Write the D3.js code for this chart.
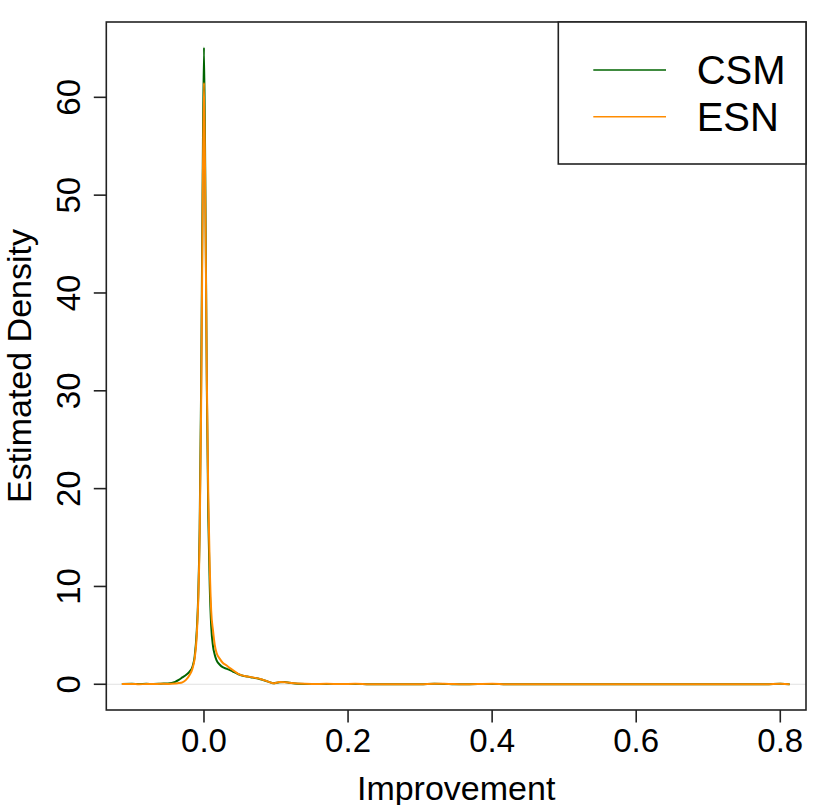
<!DOCTYPE html>
<html>
<head>
<meta charset="utf-8">
<script src="https://cdn.jsdelivr.net/npm/d3@7"></script>
<style>
  body { margin: 0; background: #fff; }
  svg { font-family: "Liberation Sans", Arial, Helvetica, sans-serif; }
</style>
</head>
<body>
<svg id="chart" width="830" height="805"></svg>
<script>
// density estimates
var xVals = [-0.114, -0.10, -0.09, -0.08, -0.07, -0.06, -0.05, -0.04, -0.035, -0.03,
  -0.025, -0.02, -0.016, -0.013, -0.010, -0.008, -0.006, -0.004, -0.002, 0.0,
  0.002, 0.004, 0.006, 0.008, 0.010, 0.0125, 0.015, 0.0175, 0.022, 0.026,
  0.031, 0.036, 0.040, 0.047, 0.054, 0.060, 0.068, 0.075, 0.082, 0.090,
  0.096, 0.105, 0.112, 0.119, 0.13, 0.15, 0.17, 0.19, 0.21, 0.23,
  0.30, 0.32, 0.34, 0.36, 0.40, 0.42, 0.5, 0.6, 0.7, 0.78, 0.80, 0.813];
var csm = [0.02, 0.05, 0.02, 0.05, 0.03, 0.06, 0.08, 0.25, 0.45, 0.7,
  0.95, 1.3, 1.8, 2.8, 5.5, 9, 16, 30, 50, 65.1,
  50, 30, 17, 10, 6, 3.9, 3.0, 2.45, 2.0, 1.75,
  1.6, 1.45, 1.3, 1.05, 0.88, 0.8, 0.68, 0.6, 0.44, 0.25,
  0.1, 0.2, 0.22, 0.15, 0.06, 0.02, 0.04, 0.02, 0.04, 0.0,
  0.0, 0.05, 0.02, 0.0, 0.04, 0.0, 0, 0, 0, 0, 0.05, 0.0];
var esn = [0.02, 0.04, 0.0, 0.03, 0.02, 0.05, 0.04, 0.08, 0.12, 0.2,
  0.45, 0.95, 1.6, 2.6, 5.0, 8.5, 15, 28, 47, 61.5,
  48, 31, 19, 12, 7.5, 5.5, 4.0, 3.2, 2.6, 2.2,
  1.95, 1.65, 1.45, 1.1, 0.88, 0.8, 0.7, 0.6, 0.45, 0.25,
  0.1, 0.22, 0.2, 0.15, 0.08, 0.03, 0.05, 0.02, 0.05, 0.01,
  0.0, 0.06, 0.03, 0.0, 0.05, 0.01, 0, 0, 0, 0, 0.06, 0.01];
var xTicks = [0.0, 0.2, 0.4, 0.6, 0.8];
var yTicks = [0, 10, 20, 30, 40, 50, 60];
var seriesNames = ["CSM", "ESN"];
var seriesColors = ["#006400", "#ff8c00"];

var svg = d3.select("#chart");
var pLeft = 106.3, pRight = 806, pTop = 22, pBottom = 710;

// R style: 4% padding around the data range
var x = d3.scaleLinear().domain([-0.1356, 0.8357]).range([pLeft, pRight]);
var y = d3.scaleLinear().domain([-2.63, 67.7]).range([pBottom, pTop]);

// zero line
svg.append("line")
    .attr("x1", pLeft).attr("x2", pRight)
    .attr("y1", y(0)).attr("y2", y(0))
    .attr("stroke", "#e2e2e2").attr("stroke-width", 1);

var line = d3.line().curve(d3.curveMonotoneX)
    .x(function (d) { return x(d[0]); })
    .y(function (d) { return y(d[1]); });

[csm, esn].forEach(function (vals, i) {
    svg.append("path")
        .datum(xVals.map(function (v, j) { return [v, vals[j]]; }))
        .attr("d", line)
        .attr("fill", "none")
        .attr("stroke", seriesColors[i])
        .attr("stroke-width", 2)
        .attr("stroke-linejoin", "round");
});

// frame
svg.append("rect")
    .attr("x", pLeft).attr("y", pTop)
    .attr("width", pRight - pLeft).attr("height", pBottom - pTop)
    .attr("fill", "none").attr("stroke", "#222").attr("stroke-width", 1.6);

// x axis
var xAxis = svg.append("g");
xAxis.selectAll("line").data(xTicks).enter().append("line")
    .attr("x1", d => x(d)).attr("x2", d => x(d))
    .attr("y1", pBottom).attr("y2", pBottom + 12.5)
    .attr("stroke", "#222").attr("stroke-width", 1.6);
xAxis.selectAll("text").data(xTicks).enter().append("text")
    .attr("x", d => x(d)).attr("y", 752)
    .attr("text-anchor", "middle")
    .attr("font-size", 33)
    .text(d => d3.format(".1f")(d));

// y axis
var yAxis = svg.append("g");
yAxis.selectAll("line").data(yTicks).enter().append("line")
    .attr("x1", pLeft - 12.5).attr("x2", pLeft)
    .attr("y1", d => y(d)).attr("y2", d => y(d))
    .attr("stroke", "#222").attr("stroke-width", 1.6);
yAxis.selectAll("text").data(yTicks).enter().append("text")
    .attr("transform", d => "translate(80," + y(d) + ") rotate(-90)")
    .attr("text-anchor", "middle")
    .attr("font-size", 33)
    .text(d => d);

// axis titles
svg.append("text")
    .attr("x", (pLeft + pRight) / 2).attr("y", 800)
    .attr("text-anchor", "middle")
    .attr("font-size", 34)
    .text("Improvement");
svg.append("text")
    .attr("transform", "translate(31," + (pTop + pBottom) / 2 + ") rotate(-90)")
    .attr("text-anchor", "middle")
    .attr("font-size", 34)
    .text("Estimated Density");

// legend
var legend = svg.append("g");
legend.append("rect")
    .attr("x", 558.3).attr("y", pTop)
    .attr("width", pRight - 558.3).attr("height", 164 - pTop)
    .attr("fill", "#fff").attr("stroke", "#222").attr("stroke-width", 1.6);
seriesNames.forEach(function (name, i) {
    var ly = 70 + i * 46.7;
    legend.append("line")
        .attr("x1", 593.3).attr("x2", 666)
        .attr("y1", ly).attr("y2", ly)
        .attr("stroke", seriesColors[i]).attr("stroke-width", 1.5);
    legend.append("text")
        .attr("x", 696.7).attr("y", ly + 14.3)
        .attr("font-size", 40)
        .text(name);
});
</script>
</body>
</html>
